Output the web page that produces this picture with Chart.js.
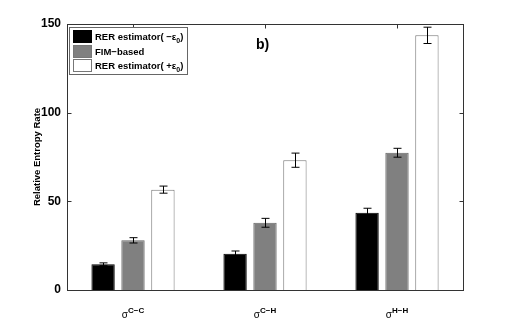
<!DOCTYPE html>
<html>
<head>
<meta charset="utf-8">
<script src="https://cdn.jsdelivr.net/npm/chart.js@4.4.1/dist/chart.umd.min.js"></script>
<style>
  html, body { margin: 0; padding: 0; background: #fff; }
  #wrap { position: relative; width: 512px; height: 326px; font-family: 'Liberation Sans', Arial, sans-serif; }
  canvas { position: absolute; left: 0; top: 0; }
  .legend { position: absolute; left: 69px; top: 27px; width: 119px; height: 48px; border: 1px solid #666; background: #fff; box-sizing: border-box; }
  .row { position: absolute; left: 3px; height: 14px; font-size: 9.5px; font-weight: bold; line-height: 14px; white-space: nowrap; }
  .sw { display: inline-block; width: 19px; height: 13px; vertical-align: top; margin-right: 3px; box-sizing: border-box; border: 1px solid #777; }
  .panel { position: absolute; left: 256px; top: 36px; font-size: 14px; font-weight: bold; }
  .xl { position: absolute; top: 307px; height: 16px; line-height: 16px; font-size: 10px; transform: translateX(-50%); white-space: nowrap; }
  .xl sup { font-size: 8px; font-weight: bold; position: relative; top: -1px; line-height: 0; }
  sub { font-size: 7px; }
</style>
</head>
<body>
<div id="wrap">
  <canvas id="c" width="512" height="326"></canvas>
  <div class="legend">
    <div class="row" style="top:2px"><span class="sw" style="background:#000;border-color:#000"></span>RER estimator( −ε<sub>0</sub>)</div>
    <div class="row" style="top:17px"><span class="sw" style="background:#808080"></span>FIM−based</div>
    <div class="row" style="top:31px"><span class="sw" style="background:#fff"></span>RER estimator( +ε<sub>0</sub>)</div>
  </div>
  <div class="panel">b)</div>
</div>
<script>
const categories = ['C−C', 'C−H', 'H−H'];
const rerMinus = [14.5, 20.5, 43.6];
const rerMinusErr = [0.8, 1.5, 2.5];
const fimBased = [28, 37.9, 77.4];
const fimBasedErr = [1.5, 2.5, 2.5];
const rerPlus = [56.6, 73.2, 143.6];
const rerPlusErr = [2, 4, 4.6];
const yTicks = [0, 50, 100, 150];

const errorBars = {
  id: 'errorBars',
  afterDatasetsDraw(chart) {
    const ctx = chart.ctx;
    const y = chart.scales.y;
    ctx.save();
    ctx.strokeStyle = '#000';
    ctx.lineWidth = 1;
    chart.data.datasets.forEach((ds, di) => {
      const meta = chart.getDatasetMeta(di);
      meta.data.forEach((bar, i) => {
        const x = Math.round(bar.x) + 0.5;
        const top = y.getPixelForValue(ds.data[i] + ds.err[i]);
        const bot = y.getPixelForValue(ds.data[i] - ds.err[i]);
        ctx.beginPath();
        ctx.moveTo(x, top); ctx.lineTo(x, bot);
        ctx.moveTo(x - 4, top); ctx.lineTo(x + 4, top);
        ctx.moveTo(x - 4, bot); ctx.lineTo(x + 4, bot);
        ctx.stroke();
      });
    });
    ctx.restore();
  }
};

const frame = {
  id: 'frame',
  afterDraw(chart) {
    const ctx = chart.ctx;
    const a = chart.chartArea;
    const x = chart.scales.x;
    const y = chart.scales.y;
    ctx.save();
    ctx.strokeStyle = '#333';
    ctx.lineWidth = 1;
    const l = Math.round(a.left) + 0.5, r = Math.round(a.right) + 0.5;
    const t = Math.round(a.top) + 0.5, b = Math.round(a.bottom) + 0.5;
    ctx.strokeRect(l, t, r - l, b - t);
    ctx.beginPath();
    yTicks.forEach((v) => {
      const py = Math.round(y.getPixelForValue(v)) + 0.5;
      ctx.moveTo(l, py); ctx.lineTo(l + 4, py);
      ctx.moveTo(r, py); ctx.lineTo(r - 4, py);
    });
    categories.forEach((c, i) => {
      const px = Math.round(x.getPixelForValue(i)) + 0.5;
      ctx.moveTo(px, t); ctx.lineTo(px, t + 4);
    });
    ctx.stroke();
    ctx.restore();
  }
};

const chart = new Chart(document.getElementById('c'), {
  type: 'bar',
  data: {
    labels: categories,
    datasets: [
      { label: 'RER estimator( −ε0)', data: rerMinus, err: rerMinusErr, backgroundColor: '#000', borderColor: '#000', borderWidth: 1 },
      { label: 'FIM−based', data: fimBased, err: fimBasedErr, backgroundColor: '#808080', borderColor: '#666', borderWidth: 1 },
      { label: 'RER estimator( +ε0)', data: rerPlus, err: rerPlusErr, backgroundColor: '#fff', borderColor: '#777', borderWidth: 1 },
    ],
  },
  options: {
    responsive: false,
    animation: false,
    categoryPercentage: 0.68,
    barPercentage: 0.78,
    layout: { padding: { left: 32, right: 49, top: 24, bottom: 0 } },
    scales: {
      x: {
        grid: { display: false, drawTicks: false },
        border: { display: false },
        ticks: { display: false },
        afterFit: (scale) => { scale.height = 36; },
      },
      y: {
        min: 0,
        max: 150,
        grid: { display: false, drawTicks: false },
        border: { display: false },
        afterBuildTicks: (scale) => { scale.ticks = yTicks.map((v) => ({ value: v })); },
        ticks: {
          color: '#000',
          padding: 6,
          font: { family: "'Liberation Sans', Arial, sans-serif", size: 12, weight: 'bold' },
        },
        title: {
          display: true,
          text: 'Relative Entropy Rate',
          color: '#000',
          padding: 0,
          font: { family: "'Liberation Sans', Arial, sans-serif", size: 9.5, weight: 'bold' },
        },
        afterFit: (scale) => { scale.width = 35; },
      },
    },
    plugins: {
      legend: { display: false },
      tooltip: { enabled: false },
    },
  },
  plugins: [errorBars, frame],
});

const wrap = document.getElementById('wrap');
categories.forEach((c, i) => {
  const el = document.createElement('div');
  el.className = 'xl';
  el.style.left = chart.scales.x.getPixelForValue(i) + 'px';
  el.innerHTML = 'σ<sup>' + c + '</sup>';
  wrap.appendChild(el);
});
</script>
</body>
</html>
